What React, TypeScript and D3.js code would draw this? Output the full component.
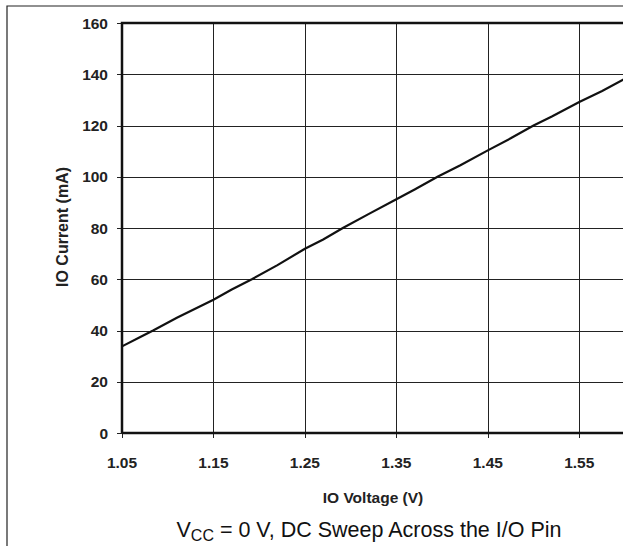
import { useEffect, useRef } from "react";
import * as d3 from "d3";

// IO voltage (V) and IO current (mA)
const voltage = [
  1.05, 1.07, 1.084, 1.11, 1.15, 1.17, 1.192, 1.22, 1.25, 1.27, 1.2915, 1.32,
  1.35, 1.37, 1.395, 1.42, 1.45, 1.475, 1.5, 1.52, 1.55, 1.575, 1.6,
];
const current = [
  33.8, 37.5, 40, 45, 52, 56, 60, 65.5, 71.9, 75.5, 80, 85.5, 91.2, 95, 100,
  104.5, 110.3, 115, 120, 123.5, 129.2, 133.5, 138.3,
];
const xTicks = [1.05, 1.15, 1.25, 1.35, 1.45, 1.55];
const yTicks = [0, 20, 40, 60, 80, 100, 120, 140, 160];

const FONT = "'Liberation Sans', Arial, Helvetica, sans-serif";

function App() {
  const svgRef = useRef<SVGSVGElement>(null);

  useEffect(() => {
    const svgElement = svgRef.current;
    if (!svgElement) return;

    const width = 623;
    const height = 546;
    const plot = { left: 122, top: 23, bottom: 433 };

    const svg = d3
      .select(svgElement)
      .attr("width", width)
      .attr("height", height);

    const xScale = d3.scaleLinear().domain([1.05, 1.6]).range([plot.left, 625]);
    const yScale = d3.scaleLinear().domain([0, 160]).range([plot.bottom, plot.top]);

    // outer frame (left + top only, rest is cropped)
    svg
      .append("path")
      .attr("d", `M7,${height} L7,6 L${width},6`)
      .attr("fill", "none")
      .attr("stroke", "#222")
      .attr("stroke-width", 1.2);

    // grid lines
    svg
      .selectAll(".hgrid")
      .data(yTicks.filter((d) => d > 0 && d < 160))
      .enter()
      .append("line")
      .attr("x1", plot.left)
      .attr("x2", width)
      .attr("y1", (d) => Math.round(yScale(d)) + 0.5)
      .attr("y2", (d) => Math.round(yScale(d)) + 0.5)
      .attr("stroke", "#222")
      .attr("stroke-width", 1);

    svg
      .selectAll(".vgrid")
      .data(xTicks.slice(1))
      .enter()
      .append("line")
      .attr("x1", (d) => Math.round(xScale(d)) + 0.5)
      .attr("x2", (d) => Math.round(xScale(d)) + 0.5)
      .attr("y1", plot.top)
      .attr("y2", plot.bottom)
      .attr("stroke", "#222")
      .attr("stroke-width", 1);

    // tick marks
    svg
      .selectAll(".ytick")
      .data(yTicks)
      .enter()
      .append("line")
      .attr("x1", plot.left - 5)
      .attr("x2", plot.left)
      .attr("y1", (d) => Math.round(yScale(d)) + 0.5)
      .attr("y2", (d) => Math.round(yScale(d)) + 0.5)
      .attr("stroke", "#222");

    svg
      .selectAll(".xtick")
      .data(xTicks)
      .enter()
      .append("line")
      .attr("x1", (d) => Math.round(xScale(d)) + 0.5)
      .attr("x2", (d) => Math.round(xScale(d)) + 0.5)
      .attr("y1", plot.bottom)
      .attr("y2", plot.bottom + 5)
      .attr("stroke", "#222");

    // heavy axes / top border
    svg
      .append("path")
      .attr("d", `M${plot.left},${plot.bottom} L${plot.left},${plot.top} L${width},${plot.top}`)
      .attr("fill", "none")
      .attr("stroke", "#111")
      .attr("stroke-width", 2.5);
    svg
      .append("line")
      .attr("x1", plot.left)
      .attr("x2", width)
      .attr("y1", plot.bottom)
      .attr("y2", plot.bottom)
      .attr("stroke", "#111")
      .attr("stroke-width", 2.5);

    // the curve
    const points = voltage.map((v, i) => [v, current[i]] as [number, number]);
    const line = d3
      .line<[number, number]>()
      .x((d) => xScale(d[0]))
      .y((d) => yScale(d[1]));
    svg
      .append("path")
      .attr("d", line(points) || "")
      .attr("fill", "none")
      .attr("stroke", "#111")
      .attr("stroke-width", 2.2);

    // tick labels
    svg
      .selectAll(".ylabel")
      .data(yTicks)
      .enter()
      .append("text")
      .attr("x", 108)
      .attr("y", (d) => yScale(d) + 5.5)
      .attr("text-anchor", "end")
      .text((d) => d)
      .style("font", `bold 15.5px ${FONT}`)
      .style("fill", "#222");

    svg
      .selectAll(".xlabel")
      .data(xTicks)
      .enter()
      .append("text")
      .attr("x", (d) => xScale(d))
      .attr("y", 468)
      .attr("text-anchor", "middle")
      .text((d) => d3.format(".2f")(d))
      .style("font", `bold 15.5px ${FONT}`)
      .style("fill", "#222");

    // axis titles
    svg
      .append("text")
      .attr("x", 373)
      .attr("y", 503)
      .attr("text-anchor", "middle")
      .text("IO Voltage (V)")
      .style("font", `bold 15.5px ${FONT}`)
      .style("fill", "#222");

    svg
      .append("text")
      .attr("transform", "translate(67.5,227) rotate(-90)")
      .attr("text-anchor", "middle")
      .text("IO Current (mA)")
      .style("font", `bold 16px ${FONT}`)
      .style("fill", "#222");

    // caption
    const caption = svg
      .append("text")
      .attr("x", 369)
      .attr("y", 537)
      .attr("text-anchor", "middle")
      .style("font", `21.5px ${FONT}`)
      .style("fill", "#111");
    caption.append("tspan").text("V");
    caption
      .append("tspan")
      .attr("dy", 4)
      .style("font-size", "16px")
      .text("CC");
    caption.append("tspan").attr("dy", -4).text(" = 0 V, DC Sweep Across the I/O Pin");

    return () => {
      d3.select(svgElement).selectAll("*").remove();
    };
  }, []);

  return (
    <svg
      ref={svgRef}
      style={{ position: "absolute", left: 0, top: 0, background: "#fff" }}
    ></svg>
  );
}

export default App;
